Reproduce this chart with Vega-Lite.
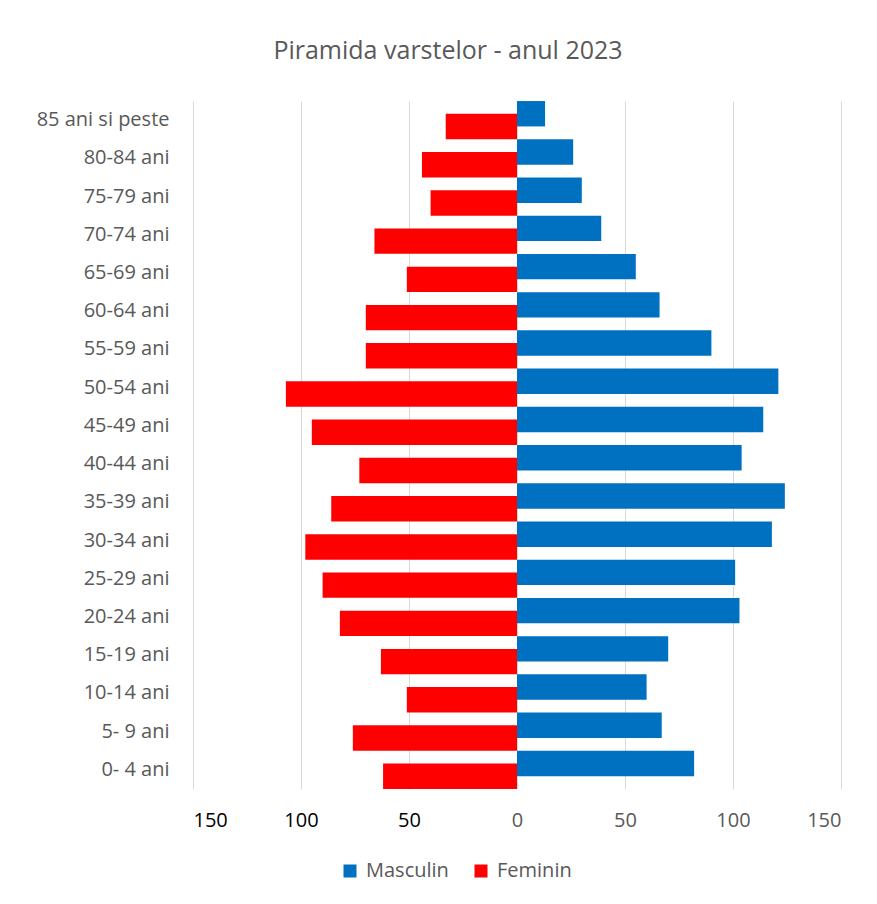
{
  "$schema": "https://vega.github.io/schema/vega-lite/v6.json",
  "autosize": {"type": "none"},
  "padding": {"left": 193, "top": 101, "right": 36, "bottom": 115},
  "width": 648,
  "height": 688,
  "title": {
    "text": "Piramida varstelor - anul 2023",
    "font": "Open Sans",
    "fontSize": 25,
    "fontWeight": "normal",
    "color": "#595959",
    "anchor": "middle",
    "frame": "group",
    "baseline": "alphabetic",
    "offset": 17,
    "dx": -69
  },
  "data": {
    "values": [
      {"age": "85 ani si peste", "sex": "Masculin", "value": 13},
      {"age": "85 ani si peste", "sex": "Feminin", "value": -33},
      {"age": "80-84 ani", "sex": "Masculin", "value": 26},
      {"age": "80-84 ani", "sex": "Feminin", "value": -44},
      {"age": "75-79 ani", "sex": "Masculin", "value": 30},
      {"age": "75-79 ani", "sex": "Feminin", "value": -40},
      {"age": "70-74 ani", "sex": "Masculin", "value": 39},
      {"age": "70-74 ani", "sex": "Feminin", "value": -66},
      {"age": "65-69 ani", "sex": "Masculin", "value": 55},
      {"age": "65-69 ani", "sex": "Feminin", "value": -51},
      {"age": "60-64 ani", "sex": "Masculin", "value": 66},
      {"age": "60-64 ani", "sex": "Feminin", "value": -70},
      {"age": "55-59 ani", "sex": "Masculin", "value": 90},
      {"age": "55-59 ani", "sex": "Feminin", "value": -70},
      {"age": "50-54 ani", "sex": "Masculin", "value": 121},
      {"age": "50-54 ani", "sex": "Feminin", "value": -107},
      {"age": "45-49 ani", "sex": "Masculin", "value": 114},
      {"age": "45-49 ani", "sex": "Feminin", "value": -95},
      {"age": "40-44 ani", "sex": "Masculin", "value": 104},
      {"age": "40-44 ani", "sex": "Feminin", "value": -73},
      {"age": "35-39 ani", "sex": "Masculin", "value": 124},
      {"age": "35-39 ani", "sex": "Feminin", "value": -86},
      {"age": "30-34 ani", "sex": "Masculin", "value": 118},
      {"age": "30-34 ani", "sex": "Feminin", "value": -98},
      {"age": "25-29 ani", "sex": "Masculin", "value": 101},
      {"age": "25-29 ani", "sex": "Feminin", "value": -90},
      {"age": "20-24 ani", "sex": "Masculin", "value": 103},
      {"age": "20-24 ani", "sex": "Feminin", "value": -82},
      {"age": "15-19 ani", "sex": "Masculin", "value": 70},
      {"age": "15-19 ani", "sex": "Feminin", "value": -63},
      {"age": "10-14 ani", "sex": "Masculin", "value": 60},
      {"age": "10-14 ani", "sex": "Feminin", "value": -51},
      {"age": "5- 9 ani", "sex": "Masculin", "value": 67},
      {"age": "5- 9 ani", "sex": "Feminin", "value": -76},
      {"age": "0- 4 ani", "sex": "Masculin", "value": 82},
      {"age": "0- 4 ani", "sex": "Feminin", "value": -62}
    ]
  },
  "mark": {"type": "bar", "height": 25.4},
  "encoding": {
    "y": {
      "field": "age",
      "type": "nominal",
      "sort": ["85 ani si peste", "80-84 ani", "75-79 ani", "70-74 ani", "65-69 ani", "60-64 ani", "55-59 ani", "50-54 ani", "45-49 ani", "40-44 ani", "35-39 ani", "30-34 ani", "25-29 ani", "20-24 ani", "15-19 ani", "10-14 ani", "5- 9 ani", "0- 4 ani"],
      "scale": {"paddingInner": 0, "paddingOuter": 0},
      "title": null,
      "axis": {
        "domain": false,
        "ticks": false,
        "tickSize": 0,
        "grid": false,
        "labelPadding": 24,
        "labelFont": "Open Sans",
        "labelFontSize": 20,
        "labelColor": "#595959"
      }
    },
    "yOffset": {
      "field": "sex",
      "type": "nominal",
      "sort": ["Masculin", "Feminin"],
      "scale": {"paddingInner": 0, "paddingOuter": 0.5}
    },
    "x": {
      "field": "value",
      "type": "quantitative",
      "scale": {"domain": [-150, 150], "nice": false},
      "title": null,
      "axis": {
        "values": [-150, -100, -50, 0, 50, 100, 150],
        "labelExpr": "abs(datum.value)",
        "domain": false,
        "ticks": false,
        "tickSize": 0,
        "grid": true,
        "gridColor": "#d9d9d9",
        "gridWidth": 1,
        "labelPadding": 37,
        "labelBaseline": "alphabetic",
        "labelFont": "Open Sans",
        "labelFontSize": 20,
        "labelColor": {"condition": {"test": "datum.value < 0", "value": "#000000"}, "value": "#595959"}
      }
    },
    "color": {
      "field": "sex",
      "type": "nominal",
      "scale": {"domain": ["Masculin", "Feminin"], "range": ["#0070C0", "#FF0000"]},
      "legend": {
        "title": null,
        "orient": "none",
        "legendX": 147,
        "legendY": 760,
        "direction": "horizontal",
        "symbolType": "square",
        "symbolSize": 169,
        "symbolStrokeWidth": 0,
        "labelFont": "Open Sans",
        "labelFontSize": 20,
        "labelColor": "#595959",
        "labelOffset": 6,
        "columnPadding": 22
      }
    }
  },
  "config": {"view": {"stroke": null}, "font": "Open Sans"}
}
